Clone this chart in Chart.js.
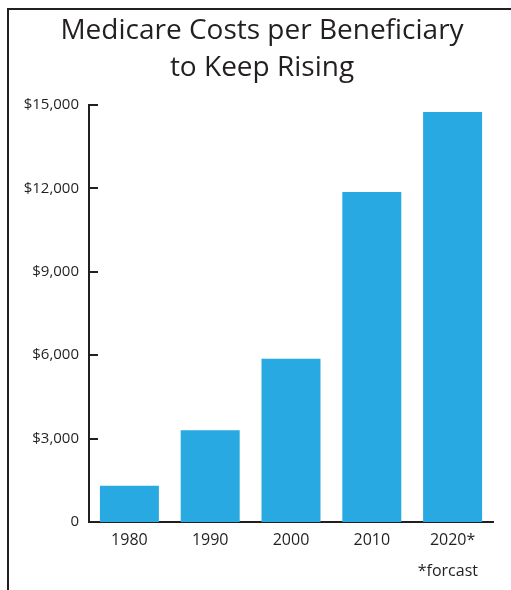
<!DOCTYPE html>
<html>
<head>
<meta charset="utf-8">
<script src="https://cdn.jsdelivr.net/npm/chart.js@4/dist/chart.umd.min.js"></script>
<style>
  html, body { margin: 0; padding: 0; background: #ffffff; }
  #wrap { width: 511px; height: 590px; position: relative; }
</style>
</head>
<body>
<div id="wrap"><canvas id="c" width="511" height="590"></canvas></div>
<script>
const categories = ['1980', '1990', '2000', '2010', '2020*'];
const costs = [1300, 3300, 5870, 11870, 14750];
const yTickValues = [0, 3000, 6000, 9000, 12000, 15000];
const yTickLabels = ['0', '$3,000', '$6,000', '$9,000', '$12,000', '$15,000'];
const titleLines = ['Medicare Costs per Beneficiary', 'to Keep Rising'];
const footnote = '*forcast';

const INK = '#231f20';
const FONT = '"Open Sans", "Noto Sans", sans-serif';

const framePlugin = {
  id: 'frame',
  beforeDraw(chart) {
    const ctx = chart.ctx;
    ctx.save();
    ctx.fillStyle = '#ffffff';
    ctx.fillRect(0, 0, chart.width, chart.height);
    ctx.fillStyle = INK;
    ctx.fillRect(7, 8, 2, chart.height - 8);
    ctx.fillRect(7, 8, chart.width - 7, 2);
    ctx.restore();
  },
  afterDraw(chart) {
    const ctx = chart.ctx;
    const y = chart.scales.y;
    const area = chart.chartArea;
    ctx.save();
    ctx.strokeStyle = INK;
    ctx.lineWidth = 2;
    yTickValues.forEach(v => {
      if (v === 0) return;
      const py = Math.round(y.getPixelForValue(v));
      ctx.beginPath();
      ctx.moveTo(area.left - 1, py);
      ctx.lineTo(area.left + 9, py);
      ctx.stroke();
    });
    ctx.fillStyle = INK;
    ctx.textAlign = 'center';
    ctx.textBaseline = 'middle';
    ctx.font = '28px ' + FONT;
    titleLines.forEach((t, i) => ctx.fillText(t, 262, 31.5 + i * 37));
    ctx.font = '16px ' + FONT;
    ctx.textAlign = 'right';
    ctx.fillText(footnote, 478, 571);
    ctx.restore();
  }
};

new Chart(document.getElementById('c'), {
  type: 'bar',
  data: {
    labels: categories,
    datasets: [{
      data: costs,
      backgroundColor: '#29a9e1',
      borderWidth: 0,
      barPercentage: 0.73,
      categoryPercentage: 1.0
    }]
  },
  options: {
    responsive: false,
    animation: false,
    layout: { padding: { top: 105, left: 0, right: 18, bottom: 0 } },
    plugins: {
      legend: { display: false },
      tooltip: { enabled: false },
      title: { display: false }
    },
    scales: {
      x: {
        grid: { display: false },
        border: { display: true, color: INK, width: 2 },
        ticks: {
          color: INK,
          font: { family: FONT, size: 16 },
          padding: 1,
          maxRotation: 0
        },
        afterFit(s) { s.height = 68; }
      },
      y: {
        min: 0,
        max: 15000,
        grid: { display: false },
        border: { display: true, color: INK, width: 2 },
        afterBuildTicks(s) { s.ticks = yTickValues.map(v => ({ value: v })); },
        ticks: {
          color: INK,
          font: { family: FONT, size: 15 },
          padding: 2,
          callback(value) {
            const i = yTickValues.indexOf(value);
            return i >= 0 ? yTickLabels[i] : '';
          }
        },
        afterFit(s) { s.width = 89; }
      }
    }
  },
  plugins: [framePlugin]
});
</script>
</body>
</html>
